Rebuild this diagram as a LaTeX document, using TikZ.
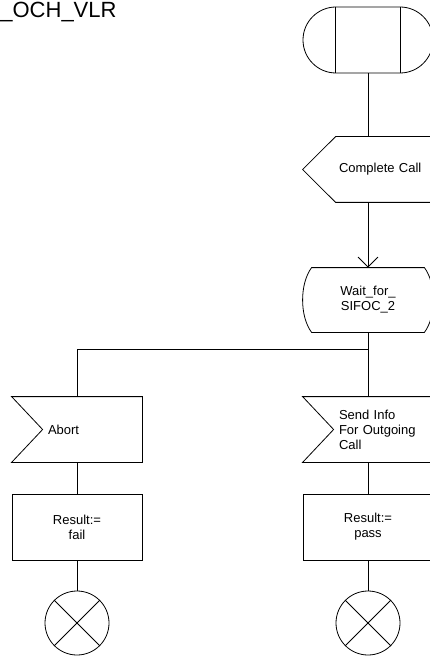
\documentclass[tikz,border=0pt]{standalone}
\usepackage{fontspec}
\setmainfont{Liberation Sans}
\usetikzlibrary{arrows.meta,positioning,shapes.misc,calc}

\begin{document}
\begin{tikzpicture}[x=1pt, y=1pt, line width=0.8pt,
  base/.style={minimum width=130, minimum height=65, inner sep=0pt, font=\fontsize{13}{15}\selectfont},
  startbox/.style={base, draw, rounded rectangle, minimum height=66},
  inbox/.style={base, text width=130pt, align=left, execute at begin node={\leftskip=36pt}},
  statebox/.style={base, align=center, minimum height=64},
  taskbox/.style={base, draw, align=center, minimum height=66},
  stopbox/.style={draw, circle, minimum size=64, inner sep=0pt},
  arrow/.style={-{Straight Barb[length=10pt, width=20pt]}}
]
\useasboundingbox (0,0) rectangle (430,-660);

\node[anchor=base west, inner sep=0pt, font=\fontsize{22}{26}\selectfont] (title) at (0,-17.5) {\_OCH\_VLR};

% start
\node[startbox] (start) at (368,-40) {};
\draw ([xshift=-32.5]start.north) -- ([xshift=-32.5]start.south);
\draw ([xshift=32.5]start.north) -- ([xshift=32.5]start.south);

% input signal
\node[inbox] (complete) at (368,-169.5) {Complete Call};
\draw ([xshift=33]complete.north west) -- (complete.north east) -- (complete.south east)
  -- ([xshift=33]complete.south west) -- (complete.west) -- cycle;

% state
\node[statebox] (wait) at (368,-300) {Wait\_for\_\\SIFOC\_2};
\draw ([xshift=9]wait.north west) -- ([xshift=-9]wait.north east)
  .. controls ([xshift=3,yshift=-16]wait.north east) and ([xshift=3,yshift=16]wait.south east) .. ([xshift=-9]wait.south east)
  -- ([xshift=9]wait.south west)
  .. controls ([xshift=-3,yshift=16]wait.south west) and ([xshift=-3,yshift=-16]wait.north west) .. cycle;

% branches
\node[inbox] (abort) at (77,-429.5) {Abort};
\draw (abort.north west) -- (abort.north east) -- (abort.south east)
  -- (abort.south west) -- ([xshift=31]abort.west) -- cycle;
\node[inbox] (send) at (368,-429.5) {Send Info\\For Outgoing\\Call};
\draw (send.north west) -- (send.north east) -- (send.south east)
  -- (send.south west) -- ([xshift=31]send.west) -- cycle;

\node[taskbox] (fail) at (77,-527) {Result:=\\fail};
\node[taskbox] (pass) at (368,-527) {Result:=\\pass};

\node[stopbox] (stopfail) at (77,-623) {};
\node[stopbox] (stoppass) at (368,-623) {};
\foreach \s in {stopfail,stoppass} {
  \draw (\s.north west) -- (\s.south east);
  \draw (\s.north east) -- (\s.south west);
}

% connectors
\coordinate (split) at ($(wait.south)+(0,-16.5)$);
\draw (start.south) -- (complete.north);
\draw[arrow] (complete.south) -- (wait.north);
\draw (wait.south) -- (send.north);
\draw (split) -| (abort.north);
\draw (abort.south) -- (fail.north);
\draw (send.south) -- (pass.north);
\draw (fail.south) -- (stopfail.north);
\draw (pass.south) -- (stoppass.north);
\end{tikzpicture}
\end{document}
